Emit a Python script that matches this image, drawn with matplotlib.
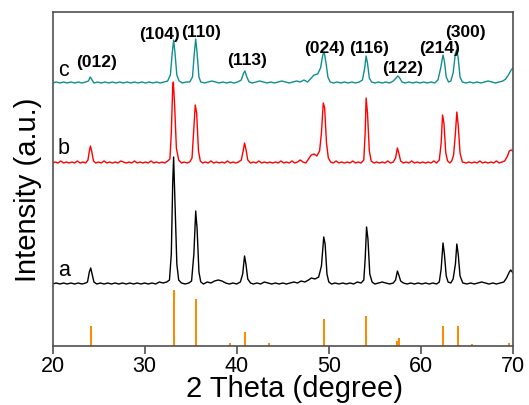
import matplotlib
matplotlib.use('Agg')
import matplotlib.pyplot as plt
import numpy as np

plt.rcParams['font.family'] = ['Liberation Sans', 'DejaVu Sans']

# sample a (relative to its own baseline)
a_x = [20.0, 20.4, 20.8, 21.2, 21.6, 22.0, 22.4, 22.8, 23.2, 23.6, 23.8, 24.0, 24.15, 24.3, 24.5, 24.8,
       25.2, 25.6, 26.0, 26.4, 26.8, 27.2, 27.6, 28.0, 28.4, 28.8, 29.2, 29.6, 30.0, 30.4, 30.8, 31.2,
       31.6, 32.0, 32.4, 32.7, 32.9, 33.05, 33.15, 33.3, 33.5, 33.7, 34.0, 34.4, 34.8, 35.1, 35.35, 35.55,
       35.7, 35.9, 36.1, 36.4, 36.8, 37.2, 37.6, 38.0, 38.4, 38.8, 39.2, 39.6, 40.0, 40.4, 40.65, 40.85,
       41.0, 41.2, 41.5, 41.8, 42.2, 42.6, 43.0, 43.4, 43.8, 44.2, 44.6, 45.0, 45.4, 45.8, 46.2, 46.6,
       47.0, 47.4, 47.8, 48.1, 48.5, 48.9, 49.2, 49.45, 49.6, 49.8, 50.0, 50.3, 50.7, 51.1, 51.5, 51.9,
       52.3, 52.7, 53.1, 53.5, 53.8, 53.95, 54.1, 54.25, 54.45, 54.7, 55.0, 55.4, 55.8, 56.2, 56.6, 57.0,
       57.25, 57.45, 57.6, 57.8, 58.1, 58.5, 58.9, 59.3, 59.7, 60.1, 60.5, 60.9, 61.3, 61.7, 62.0, 62.2,
       62.4, 62.55, 62.75, 62.95, 63.25, 63.5, 63.75, 63.9, 64.05, 64.25, 64.55, 65.0, 65.4, 65.8, 66.2,
       66.6, 67.0, 67.4, 67.8, 68.2, 68.6, 69.0, 69.3, 69.6, 69.75, 70.0]
a_y = [0, 1, 0, 1, 0, 1, 0, 1, 0, 1, 2, 12, 16, 10, 2, 0,
       1, 0, 1, 0, 1, 0, 1, 0, 1, 0, 1, 0, 1, 0, 1, 0,
       2, 1, 2, 4, 30, 100, 127, 80, 20, 4, 1, 0, 1, 3, 30, 73,
       55, 12, 2, 0, 2, 1, 3, 4, 3, 1, 0, 1, 0, 2, 10, 28,
       20, 5, 1, 0, 1, 0, 2, 1, 0, 1, 0, 1, 0, 1, 2, 1,
       3, 2, 4, 6, 5, 7, 18, 47, 40, 10, 2, 0, 1, 0, 1, 0,
       1, 0, 2, 1, 4, 25, 57, 45, 10, 2, 0, 1, 2, 1, 0, 1,
       4, 13, 9, 3, 1, 0, 1, 0, 1, 0, 1, 0, 1, 0, 2, 15,
       41, 30, 8, 2, 1, 5, 20, 40, 30, 8, 1, 0, 1, 0, 1,
       2, 1, 0, 1, 0, 1, 2, 6, 12, 14, 11]

# sample b
b_x = [20.0, 20.3, 20.6, 20.9, 21.2, 21.5, 21.8, 22.1, 22.4, 22.7, 23.0, 23.3, 23.6, 23.85, 24.0, 24.12,
       24.25, 24.45, 24.7, 25.0, 25.3, 25.6, 25.9, 26.2, 26.5, 26.8, 27.1, 27.4, 27.7, 28.0, 28.3, 28.6,
       28.9, 29.2, 29.5, 29.8, 30.1, 30.4, 30.7, 31.0, 31.3, 31.6, 31.9, 32.2, 32.5, 32.75, 32.9, 33.05,
       33.12, 33.25, 33.45, 33.7, 34.0, 34.3, 34.6, 34.9, 35.15, 35.35, 35.5, 35.65, 35.85, 36.05, 36.3,
       36.6, 36.9, 37.2, 37.5, 37.8, 38.1, 38.4, 38.7, 39.0, 39.3, 39.6, 39.9, 40.2, 40.5, 40.7, 40.85,
       41.0, 41.2, 41.5, 41.8, 42.1, 42.4, 42.7, 43.0, 43.3, 43.6, 43.9, 44.2, 44.5, 44.8, 45.1, 45.4,
       45.7, 46.0, 46.3, 46.6, 46.9, 47.2, 47.5, 47.8, 48.1, 48.4, 48.7, 49.0, 49.2, 49.4, 49.55, 49.75,
       49.95, 50.2, 50.5, 50.8, 51.1, 51.4, 51.7, 52.0, 52.3, 52.6, 52.9, 53.2, 53.5, 53.8, 53.95, 54.05,
       54.2, 54.4, 54.6, 54.9, 55.2, 55.5, 55.8, 56.1, 56.4, 56.7, 57.0, 57.25, 57.45, 57.6, 57.8, 58.1,
       58.4, 58.7, 59.0, 59.3, 59.6, 59.9, 60.2, 60.5, 60.8, 61.1, 61.4, 61.7, 62.0, 62.2, 62.35, 62.5,
       62.7, 62.9, 63.15, 63.35, 63.55, 63.75, 63.9, 64.05, 64.25, 64.5, 64.9, 65.2, 65.5, 65.8, 66.1,
       66.4, 66.7, 67.0, 67.3, 67.6, 67.9, 68.2, 68.5, 68.8, 69.1, 69.4, 69.6, 69.8, 70.0]
b_y = [0, 1, 0, 2, 0, 1, 0, 1, 0, 2, 0, 1, 0, 3, 12, 17,
       12, 2, 0, 1, 0, 2, 0, 1, 0, 1, 0, 2, 1, 0, 1, 0,
       2, 0, 1, 0, 1, 0, 2, 0, 1, 0, 1, 0, 2, 4, 30, 75,
       81, 60, 15, 3, 0, 1, 0, 1, 5, 35, 58, 50, 12, 2, 0,
       1, 0, 2, 0, 1, 0, 1, 0, 2, 0, 1, 0, 1, 3, 12, 20,
       14, 3, 0, 1, 0, 2, 0, 1, 0, 1, 0, 1, 0, 2, 0, 1,
       0, 2, 0, 1, 3, 1, 0, 4, 8, 9, 7, 12, 30, 60, 55, 20,
       5, 1, 0, 2, 0, 1, 0, 1, 0, 2, 0, 1, 0, 3, 30, 65,
       50, 12, 2, 0, 1, 0, 1, 0, 2, 0, 1, 5, 15, 10, 2, 0,
       1, 0, 2, 0, 1, 0, 1, 0, 1, 0, 2, 0, 3, 20, 48, 40,
       10, 2, 0, 2, 8, 30, 51, 38, 10, 1, 0, 1, 0, 1, 0,
       2, 0, 1, 0, 1, 0, 2, 0, 1, 2, 7, 12, 13, 12]

# sample c
c_x = [20.0, 20.4, 20.8, 21.2, 21.6, 22.0, 22.4, 22.8, 23.2, 23.6, 23.9, 24.1, 24.3, 24.5, 24.9, 25.3,
       25.7, 26.1, 26.5, 26.9, 27.3, 27.7, 28.1, 28.5, 28.9, 29.3, 29.7, 30.1, 30.5, 30.9, 31.3, 31.7,
       32.1, 32.5, 32.8, 33.0, 33.15, 33.3, 33.5, 33.75, 34.1, 34.5, 34.9, 35.2, 35.4, 35.55, 35.7, 35.9,
       36.1, 36.5, 36.9, 37.3, 37.7, 38.1, 38.5, 38.9, 39.3, 39.7, 40.1, 40.5, 40.75, 40.9, 41.1, 41.35,
       41.7, 42.1, 42.5, 42.9, 43.3, 43.7, 44.1, 44.5, 44.9, 45.3, 45.7, 46.1, 46.5, 46.9, 47.3, 47.7,
       48.0, 48.4, 48.8, 49.1, 49.35, 49.5, 49.7, 49.9, 50.15, 50.5, 50.9, 51.3, 51.7, 52.1, 52.5, 52.9,
       53.3, 53.65, 53.9, 54.05, 54.2, 54.4, 54.65, 55.0, 55.4, 55.8, 56.2, 56.6, 57.0, 57.3, 57.5, 57.7,
       57.95, 58.3, 58.7, 59.1, 59.5, 59.9, 60.3, 60.7, 61.1, 61.5, 61.85, 62.15, 62.4, 62.55, 62.75,
       63.0, 63.25, 63.5, 63.75, 63.9, 64.05, 64.25, 64.5, 64.9, 65.3, 65.7, 66.1, 66.5, 66.9, 67.3,
       67.7, 68.1, 68.5, 68.9, 69.2, 69.5, 69.8, 70.0]
c_y = [0, 1, 0, 1, 0, 1, 0, 1, 0, 1, 2, 6, 3, 0, 1, 0,
       1, 0, 1, 0, 1, 0, 1, 0, 1, 0, 1, 0, 1, 0, 1, 0,
       1, 2, 8, 30, 43, 30, 8, 2, 0, 1, 1, 6, 30, 44, 30, 6,
       1, 0, 1, 2, 1, 0, 1, 0, 1, 0, 1, 3, 10, 12, 6, 1,
       0, 1, 2, 1, 0, 1, 0, 1, 2, 1, 0, 1, 2, 1, 3, 1,
       4, 8, 9, 15, 28, 31, 20, 6, 1, 0, 1, 0, 1, 0, 1, 0,
       1, 3, 15, 27, 20, 5, 1, 0, 1, 0, 1, 0, 2, 5, 7, 5,
       1, 0, 1, 0, 1, 0, 1, 0, 1, 0, 3, 15, 28, 22, 6,
       1, 2, 10, 30, 33, 25, 6, 1, 0, 1, 0, 1, 0, 1, 2,
       1, 0, 1, 2, 4, 8, 13, 15]

# standard pattern sticks
ref_pos = [24.14, 33.15, 35.61, 39.28, 40.85, 43.52, 49.48, 54.09, 57.43, 57.59,
           62.45, 64.0, 65.5, 66.0, 69.6]
ref_int = [20, 56, 47, 3, 14, 3, 27, 30, 5, 8, 20, 20, 2, 1, 3]

hkl_labels = ['(012)', '(104)', '(110)', '(113)', '(024)', '(116)', '(122)', '(214)', '(300)']
hkl_x = [24.8, 31.6, 36.15, 41.1, 49.5, 54.4, 58.0, 62.05, 64.8]
hkl_y = [283, 311, 313, 286, 298, 297, 278, 298, 313]

offsets = {'a': 62, 'b': 183, 'c': 263}


def main():
    fig = plt.figure(figsize=(5.29, 4.05), dpi=100)
    ax = fig.add_axes([52.5 / 529, 59 / 405, 460.5 / 529, 334 / 405])

    ax.bar(ref_pos, ref_int, width=0.22, color='#ff8c00', linewidth=0)
    ax.plot(a_x, np.array(a_y) + offsets['a'], color='black', lw=1.0)
    ax.plot(b_x, np.array(b_y) + offsets['b'], color='red', lw=1.0)
    ax.plot(c_x, np.array(c_y) + offsets['c'], color='#0e8f8f', lw=1.0)

    for name, ypos in [('a', 75), ('b', 198), ('c', 276)]:
        ax.text(20.6, ypos, name, fontsize=15.5, ha='left', va='center')

    for lab, x, y in zip(hkl_labels, hkl_x, hkl_y):
        ax.text(x, y, lab, fontsize=12.5, fontweight='bold', ha='center', va='center')

    ax.set_xlim(20, 70)
    ax.set_ylim(0, 334)
    ax.set_xticks([20, 30, 40, 50, 60, 70])
    ax.set_yticks([])
    ax.tick_params(axis='x', direction='out', length=6, width=1.2, color='#505050',
                   labelsize=15.5, pad=1)
    for sp in ax.spines.values():
        sp.set_color('#505050')
        sp.set_linewidth(1.2)

    fig.text(294 / 529, 1 - 389 / 405, '2 Theta (degree)', fontsize=21, ha='center', va='center')
    fig.text(28 / 529, 1 - 190 / 405, 'Intensity (a.u.)', fontsize=21, rotation=90,
             ha='center', va='center')

    fig.savefig('out.png', dpi=100)


if __name__ == "__main__":
    main()
